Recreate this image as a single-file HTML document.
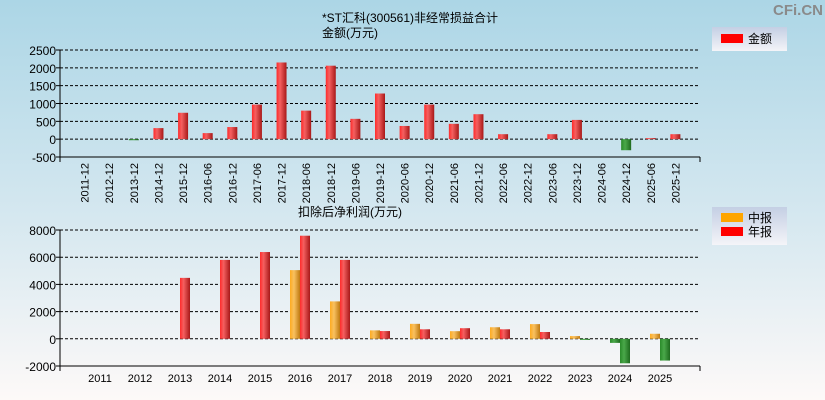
<!DOCTYPE html>
<html><head><meta charset="utf-8"><style>
body{margin:0;width:825px;height:400px;overflow:hidden;font-family:"Liberation Sans","Noto Sans CJK SC",sans-serif}
#bg{position:absolute;left:0;top:0;width:825px;height:400px;background:linear-gradient(#acd6e6,#d6e8f0 55%,#fdf9f8)}
svg{position:absolute;left:0;top:0}
</style></head><body>
<div id="bg"></div>
<svg id="c" width="825" height="400">
<defs>
<linearGradient id="gr" x1="0" x2="1"><stop offset="0" stop-color="#ff2a2a"/><stop offset="0.35" stop-color="#f56060"/><stop offset="1" stop-color="#a81818"/></linearGradient>
<linearGradient id="gg" x1="0" x2="1"><stop offset="0" stop-color="#2a8a2a"/><stop offset="0.4" stop-color="#4aa84a"/><stop offset="1" stop-color="#1e6a1e"/></linearGradient>
<linearGradient id="go" x1="0" x2="1"><stop offset="0" stop-color="#ffab20"/><stop offset="0.4" stop-color="#f8c060"/><stop offset="1" stop-color="#c07a10"/></linearGradient>
<linearGradient id="lg" x1="0" y1="0" x2="0" y2="1"><stop offset="0" stop-color="#c4cfe4"/><stop offset="1" stop-color="#f4f4f8"/></linearGradient>
</defs>
<text x="798" y="15" font-size="15" font-weight="bold" fill="#8a8a8a" text-anchor="middle">CFi.CN</text>
<text x="410" y="22" font-size="12" text-anchor="middle">*ST汇科(300561)非经常损益合计</text>
<text x="350" y="37" font-size="12" text-anchor="middle">金额(万元)</text>
<rect x="712" y="27" width="75" height="24" fill="url(#lg)"/>
<rect x="721" y="34" width="22" height="9" fill="#f00"/>
<text x="748" y="43" font-size="12">金额</text>
<text x="350" y="216" font-size="12" text-anchor="middle">扣除后净利润(万元)</text>
<rect x="712" y="207" width="75" height="38" fill="url(#lg)"/>
<rect x="721" y="213" width="22" height="9" fill="#ffa500"/>
<text x="748" y="222" font-size="12">中报</text>
<rect x="721" y="227" width="22" height="9" fill="#f00"/>
<text x="748" y="236" font-size="12">年报</text>
<g id="g1"></g><g id="g2"></g>
</svg>
<script>
const topCats=["2011-12","2012-12","2013-12","2014-12","2015-12","2016-06","2016-12","2017-06","2017-12","2018-06","2018-12","2019-06","2019-12","2020-06","2020-12","2021-06","2021-12","2022-06","2022-12","2023-06","2023-12","2024-06","2024-12","2025-06","2025-12"];
const topVals=[0,0,-30,310,740,170,340,970,2150,800,2060,570,1280,370,970,430,700,140,0,140,540,0,-310,30,140];
const topTicks=[2500,2000,1500,1000,500,0,-500];
const botCats=["2011","2012","2013","2014","2015","2016","2017","2018","2019","2020","2021","2022","2023","2024","2025"];
const botH1=[0,0,0,0,0,5050,2750,620,1100,560,850,1080,200,-300,370];
const botAnnual=[0,0,4480,5800,6380,7580,5800,570,700,780,700,500,-80,-1800,-1600];
const botTicks=[8000,6000,4000,2000,0,-2000];
const NS="http://www.w3.org/2000/svg";
function mk(p,t,a){const e=document.createElementNS(NS,t);for(const k in a)e.setAttribute(k,a[k]);p.appendChild(e);return e;}
function axes(g,x0,x1,yv,ticks,vmin,vmax,ytop,ybot){
  const y=v=>ytop+(vmax-v)/(vmax-vmin)*(ybot-ytop);
  ticks.forEach(t=>{
    if(t!==vmin){const l=mk(g,'line',{x1:x0,x2:x1,y1:y(t),y2:y(t),stroke:'#000','stroke-dasharray':'3,2'});
    
    }
    const tx=mk(g,'text',{x:x0-4,y:y(t)+5,'font-size':12,'text-anchor':'end'});tx.textContent=t;
    
    
    mk(g,'line',{x1:x0-4,x2:x0,y1:y(t),y2:y(t),stroke:'#000'});
  });
  mk(g,'line',{x1:x0,x2:x0,y1:ytop,y2:ybot,stroke:'#000'});
  mk(g,'line',{x1:x0,x2:x1,y1:ybot,y2:ybot,stroke:'#000'});
  mk(g,'line',{x1:x0,x2:x0,y1:ybot,y2:ybot+5,stroke:'#000'});
  mk(g,'line',{x1:x1,x2:x1,y1:ybot,y2:ybot+5,stroke:'#000'});
  return y;
}
function bar(g,x,w,y0,y1,v,fill,name){
  const r=mk(g,'rect',{x:x,y:Math.min(y0,y1),width:w,height:Math.max(Math.abs(y1-y0),v===0?0:1),fill:fill});
  
  
}
// top chart
(function(){
  const g=document.getElementById('g1');const x0=60,x1=700;
  const y=axes(g,x0,x1,0,topTicks,-500,2500,50,157);
  const step=(x1-x0)/(topCats.length+1);
  topCats.forEach((c,i)=>{
    const cx=x0+step*(i+1);
    const v=topVals[i];
    if(v!==0) bar(g,cx-5,10,y(0),y(v),v,v<0?'url(#gg)':'url(#gr)','bar-'+c);
    const t=mk(g,'text',{x:0,y:0,'font-size':11,'text-anchor':'end',transform:`translate(${cx+4},${163}) rotate(-90)`});t.textContent=c;
    
    
  });
})();
// bottom chart
(function(){
  const g=document.getElementById('g2');const x0=60,x1=700;
  const y=axes(g,x0,x1,0,botTicks,-2000,8000,230,366);
  const step=(x1-x0)/(botCats.length+1);
  botCats.forEach((c,i)=>{
    const cx=x0+step*(i+1);
    const a=botH1[i],b=botAnnual[i];
    if(a!==0) bar(g,cx-10,10,y(0),y(a),a,a<0?'url(#gg)':'url(#go)','bar-h1-'+c);
    if(b!==0) bar(g,cx,10,y(0),y(b),b,b<0?'url(#gg)':'url(#gr)','bar-annual-'+c);
    const t=mk(g,'text',{x:cx,y:382,'font-size':11,'text-anchor':'middle'});t.textContent=c;
    
    
  });
})();
</script>
</body></html>
